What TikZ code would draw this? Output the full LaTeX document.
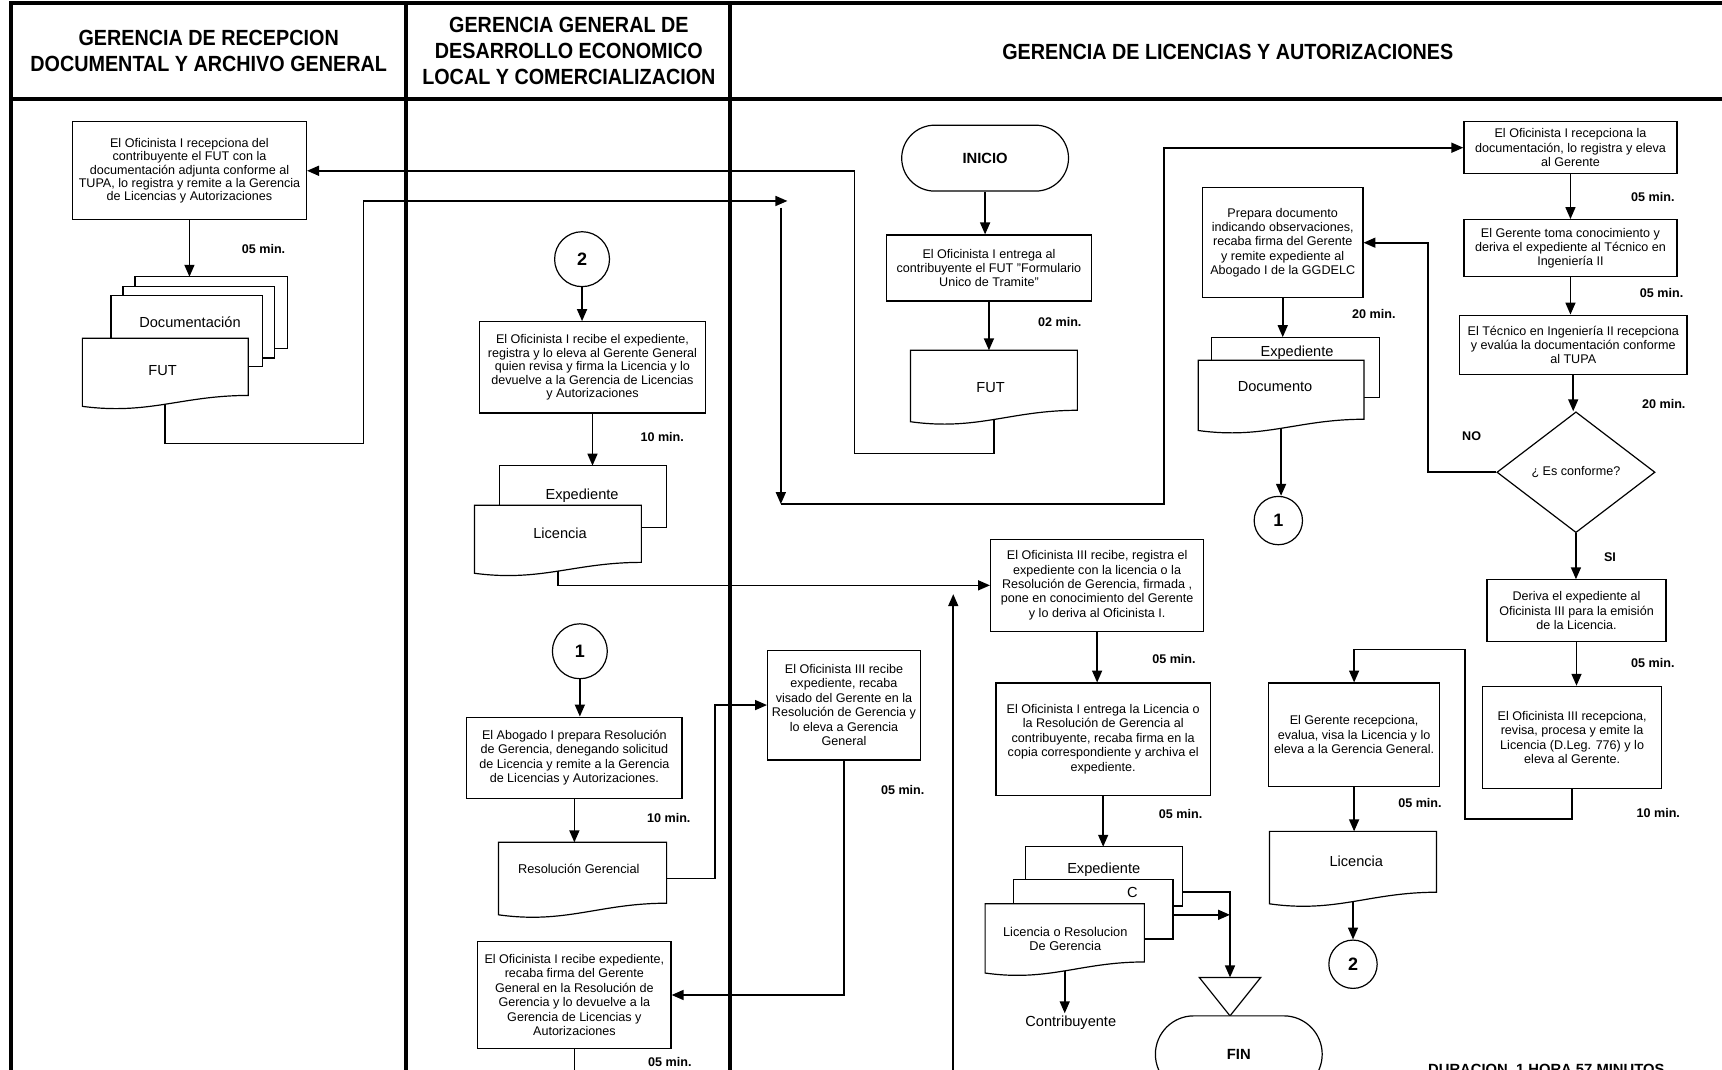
\documentclass[tikz,border=0pt]{standalone}
\usepackage{fontspec}
\setmainfont{Liberation Sans}
\newfontfamily\headfont[FakeStretch=0.9]{Liberation Sans}
\usetikzlibrary{arrows.meta, shapes.geometric, shapes.misc}

\tikzset{
  lane/.style={line width=2pt},
  proc/.style={draw, fill=white, line width=0.6pt, align=center, inner sep=1pt,
    font=\fontsize{6.3}{7.2}\selectfont},
  term/.style={draw, fill=white, rounded rectangle, line width=0.6pt,
    minimum width=90.2pt, minimum height=33pt, font=\bfseries\fontsize{7.4}{9}\selectfont},
  conec/.style={draw, fill=white, circle, line width=0.6pt, inner sep=0pt,
    font=\bfseries\fontsize{9}{10}\selectfont},
  decision/.style={draw, fill=white, diamond, line width=0.6pt, inner sep=0pt,
    font=\fontsize{6.3}{7.2}\selectfont},
  docline/.style={draw, fill=white, line width=0.6pt},
  doctext/.style={align=center, inner sep=0pt, font=\fontsize{7.3}{8.4}\selectfont},
  tiempo/.style={font=\bfseries\fontsize{6.3}{7.2}\selectfont},
  head/.style={align=center, font=\headfont\bfseries\fontsize{11}{13}\selectfont},
  flow/.style={line width=0.8pt, -{Triangle[length=6pt,width=5pt]}},
  plain/.style={line width=0.8pt}
}

% documento con borde inferior ondulado
\newcommand{\docshape}[5]{%
  \filldraw[docline] (#2,#3) -- (#4,#3) -- (#4,{#5-0.16*(#5-#3)})
    .. controls ({#2+0.6*(#4-#2)},{#5-0.16*(#5-#3)}) and ({#2+0.4*(#4-#2)},{#5+0.13*(#5-#3)}) .. (#2,#5) -- cycle;
  \coordinate (#1-n) at ({(#2+#4)/2},#3);
  \coordinate (#1-s) at ({(#2+#4)/2},{#5-0.03*(#5-#3)});
  \coordinate (#1-e) at (#4,{(#3+#5)/2});
}
% hoja recta detras de otra
\newcommand{\sheetshape}[5]{%
  \filldraw[docline] (#2,#3) rectangle (#4,#5);
  \coordinate (#1-n) at ({(#2+#4)/2},#3);
}

\begin{document}
\begin{tikzpicture}[x=0.55pt, y=-0.55pt]
    \useasboundingbox (0,0) rectangle (1568,974);
    \clip (0,0) rectangle (1568,974);
    \fill[white] (0,0) rectangle (1568,974);

    % Carriles
    \draw[lane] (1572,3) -- (10,3) -- (10,980);
    \draw[lane] (10,90) -- (1572,90);
    \draw[lane] (370,3) -- (370,980);
    \draw[lane] (665,3) -- (665,980);
    \node[head] (h1) at (190,46.5) {GERENCIA DE RECEPCION\\DOCUMENTAL Y ARCHIVO GENERAL};
    \node[head] (h2) at (518,46.5) {GERENCIA GENERAL DE\\DESARROLLO ECONOMICO\\LOCAL Y COMERCIALIZACION};
    \node[head] (h3) at (1118,47) {GERENCIA DE LICENCIAS Y AUTORIZACIONES};

    % Recepcion documental
    \node[proc, minimum width=117.2pt, minimum height=49pt, font=\fontsize{6.3}{6.6}\selectfont] (recep) at (172.5,155.5)
        {El  Oficinista I recepciona del\\contribuyente el FUT con la\\documentación adjunta conforme al\\TUPA, lo registra y remite a la Gerencia\\de Licencias y Autorizaciones};
    \sheetshape{dk1}{123}{252}{262}{317}
    \sheetshape{dk2}{112}{261}{250}{326}
    \sheetshape{dk3}{101}{269}{239}{334}
    \node[doctext] (tdocu) at (173,293) {Documentación};
    \docshape{fut1}{75}{308}{226}{370}
    \node[doctext] (tfut1) at (148,337) {FUT};

    % Gerencia general
    \node[conec, minimum size=27.5pt] (n2a) at (530,236) {2};
    \node[proc, minimum width=112.8pt, minimum height=45.7pt, font=\fontsize{6.3}{6.8}\selectfont] (ggrev) at (539.5,334.5)
        {El Oficinista I  recibe el expediente,\\registra y lo eleva al Gerente General\\quien revisa y firma la Licencia y lo\\devuelve a la Gerencia de Licencias\\y Autorizaciones};
    \sheetshape{exp1}{455}{424}{607}{480}
    \node[doctext] (texp1) at (530,451) {Expediente};
    \docshape{lic1}{432}{460}{584}{522}
    \node[doctext] (tlic1) at (510,486) {Licencia};
    \node[conec, minimum size=27.5pt] (n1a) at (528,593) {1};
    \node[proc, minimum width=107.8pt, minimum height=40.7pt] (abog) at (523,690)
        {El Abogado I prepara Resolución\\de Gerencia, denegando solicitud\\de Licencia y remite a la Gerencia\\de Licencias y Autorizaciones.};
    \docshape{res}{454}{767}{607}{833}
    \node[doctext, font=\fontsize{6.4}{7.4}\selectfont] (tres) at (527,791) {Resolución Gerencial};
    \node[proc, minimum width=96.8pt, minimum height=53.9pt] (of1firma) at (523,906)
        {El Oficinista I recibe expediente,\\recaba firma del Gerente\\General en la Resolución de\\Gerencia y lo devuelve a la\\Gerencia de Licencias y\\Autorizaciones};

    % Licencias y autorizaciones
    \node[proc, minimum width=76.5pt, minimum height=55pt] (of3vis) at (768.5,642)
        {El Oficinista III recibe\\expediente,  recaba\\visado del Gerente en la\\Resolución de Gerencia  y\\lo eleva a Gerencia\\General};
    \node[term] (inicio) at (897,144) {INICIO};
    \node[proc, minimum width=102.9pt, minimum height=33pt] (entrega) at (900.5,244)
        {El Oficinista I entrega al\\contribuyente el FUT "Formulario\\Unico de Tramite"};
    \docshape{fut3}{829}{319}{981}{384}
    \node[doctext] (tfut3) at (902,353) {FUT};
    \node[proc, minimum width=80.3pt, minimum height=55pt] (prepara) at (1168,221)
        {Prepara documento\\indicando observaciones,\\recaba firma del Gerente\\y remite expediente al\\Abogado I de la GGDELC};
    \sheetshape{exp2}{1103}{307}{1256}{362}
    \node[doctext] (texp2) at (1181,321) {Expediente};
    \docshape{doc2}{1091}{328}{1242}{392}
    \node[doctext] (tdoc2) at (1161,352) {Documento};
    \node[conec, minimum size=24.2pt] (n1b) at (1164,474) {1};
    \node[proc, minimum width=106.7pt, minimum height=25.9pt] (recdoc) at (1430,134.5)
        {El  Oficinista I recepciona la\\documentación, lo registra y  eleva\\al Gerente};
    \node[proc, minimum width=106.7pt, minimum height=28.6pt] (gertoma) at (1430,226)
        {El Gerente toma conocimiento y\\deriva el expediente al Técnico en\\Ingeniería II};
    \node[proc, minimum width=113.9pt, minimum height=29.7pt] (tecnico) at (1432.5,314)
        {El Técnico en Ingeniería II recepciona\\y evalúa la documentación conforme\\al TUPA};
    \node[decision, minimum width=79.2pt, minimum height=60.5pt] (conforme) at (1435,430) {¿ Es conforme?};
    \node[tiempo] (no) at (1340,397) {NO};
    \node[tiempo] (si) at (1466,507) {SI};
    \node[proc, minimum width=89.7pt, minimum height=30.8pt] (deriva) at (1435.5,556)
        {Deriva el expediente al\\Oficinista III para la emisión\\de la Licencia.};
    \node[proc, minimum width=89.7pt, minimum height=51.2pt] (of3emite) at (1431.5,671.5)
        {El Oficinista III recepciona,\\revisa, procesa y emite la\\Licencia (D.Leg. 776) y lo\\eleva al Gerente.};
    \node[proc, minimum width=85.8pt, minimum height=51.7pt] (gerrec) at (1233,669)
        {El Gerente  recepciona,\\evalua,  visa la Licencia y lo\\eleva a la Gerencia General.};
    \docshape{lic3}{1156}{757}{1308}{823}
    \node[doctext] (tlic3) at (1235,784) {Licencia};
    \node[conec, minimum size=24.2pt] (n2b) at (1232,878) {2};
    \node[proc, minimum width=106.7pt, minimum height=46.2pt] (of3reg) at (999,533)
        {El Oficinista III  recibe, registra el\\expediente  con la licencia o la\\Resolución de Gerencia, firmada ,\\pone en conocimiento del Gerente\\y  lo deriva al Oficinista I.};
    \node[proc, minimum width=107.3pt, minimum height=56.1pt] (of1ent) at (1004.5,673)
        {El Oficinista I entrega la Licencia o\\la Resolución de Gerencia al\\contribuyente,  recaba firma en la\\copia correspondiente y archiva el\\expediente.};
    \sheetshape{exp3}{934}{771}{1077}{825}
    \node[doctext] (texp3) at (1005,792) {Expediente};
    \sheetshape{cop}{923}{801}{1068}{855}
    \node[doctext] (tcop) at (1031,813) {C};
    \docshape{licres}{897}{823}{1042}{886}
    \node[doctext, font=\fontsize{6.4}{7.4}\selectfont] (tlicres) at (970,855) {Licencia o Resolucion\\De Gerencia};
    \node[font=\fontsize{7.3}{8.4}\selectfont, inner sep=1pt] (contrib) at (975,931) {Contribuyente};
    \draw[docline] (1092,890) -- (1148,890) -- (1120,925) -- cycle;
    \coordinate (arch) at (1120,890);
    \node[term, minimum height=38.5pt] (fin) at (1128,960) {FIN};
    \node[anchor=base, font=\bfseries\fontsize{7.4}{9}\selectfont] (duracion) at (1408,978) {DURACION\ \ 1 HORA 57 MINUTOS};

    % Tiempos
    \foreach \x/\y/\t [count=\i] in {240/227/05, 603/398/10, 609/745/10, 822/719/05, 610/967/05,
        965/293/02, 1251/286/20, 1505/179/05, 1513/267/05, 1515/368/20, 1505/604/05,
        1510/740/10, 1293/731/05, 1069/600/05, 1075/741/05}
        \node[tiempo] (min\i) at (\x,\y) {\t\ min.};

    % Conectores
    \draw[flow] (recep.south) -- (recep.south |- dk1-n);
    \coordinate (k1) at (331,404);
    \coordinate (c1) at (717,183);
    \draw[flow] (fut1-s) |- (k1) |- (c1);
    \coordinate (k2) at (778,413);
    \draw[flow] (fut3-s) |- (k2) |- (recep.east);
    \coordinate (c2) at (711,189);
    \coordinate (c3) at (711,459);
    \draw[flow] (c2) -- (c3);
    \coordinate (k3) at (1060,459);
    \draw[flow] (c3) -- (k3) |- (recdoc.west);

    \draw[flow] (n2a.south) -- (n2a.south |- ggrev.north);
    \draw[flow] (ggrev.south) -- (ggrev.south |- exp1-n);
    \draw[flow] (lic1-s) |- (of3reg.west);
    \coordinate (c5) at (868,980);
    \coordinate (c6) at (868,541);
    \draw[flow] (c5) -- (c6);
    \draw[flow] (n1a.south) -- (n1a.south |- abog.north);
    \draw[flow] (abog.south) -- (abog.south |- res-n);
    \coordinate (k4) at (651,642);
    \draw[flow] (res-e) -| (k4) -- (of3vis.west);
    \draw[flow] (of3vis.south) |- (of1firma.east);
    \draw[plain] (of1firma.south) -- ++(0,30);

    \draw[flow] (inicio.south) -- (inicio.south |- entrega.north);
    \draw[flow] (entrega.south) -- (entrega.south |- fut3-n);
    \draw[flow] (prepara.south) -- (prepara.south |- exp2-n);
    \draw[flow] (doc2-s) -- (doc2-s |- n1b.north);
    \draw[flow] (recdoc.south) -- (recdoc.south |- gertoma.north);
    \draw[flow] (gertoma.south) -- (gertoma.south |- tecnico.north);
    \draw[flow] (tecnico.south) -- (tecnico.south |- conforme.north);
    \coordinate (k5) at (1300,221);
    \draw[flow] (conforme.west) -| (k5) -- (prepara.east);
    \draw[flow] (conforme.south) -- (conforme.south |- deriva.north);
    \draw[flow] (deriva.south) -- (deriva.south |- of3emite.north);
    \coordinate (k6) at (1334,746);
    \coordinate (k7) at ([yshift=16.5pt]gerrec.north);
    \draw[flow] (of3emite.south) |- (k6) |- (k7) -- (gerrec.north);
    \draw[flow] (gerrec.south) -- (gerrec.south |- lic3-n);
    \draw[flow] (lic3-s) -- (lic3-s |- n2b.north);
    \draw[flow] (of3reg.south) -- (of3reg.south |- of1ent.north);
    \draw[flow] (of1ent.south) -- (of1ent.south |- exp3-n);
    \coordinate (e3) at (1077,812);
    \draw[flow] (e3) -| (arch);
    \coordinate (cc) at (1068,833);
    \draw[flow] (cc) -- (cc -| arch);
    \draw[flow] (licres-s) -- (licres-s |- contrib.north);
\end{tikzpicture}
\end{document}
